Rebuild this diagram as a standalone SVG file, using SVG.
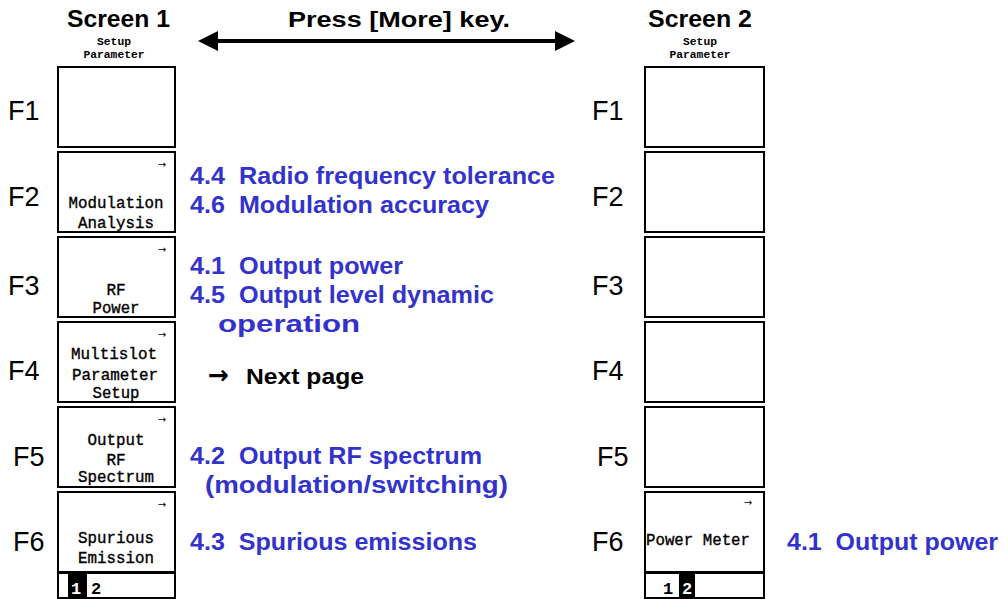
<svg xmlns="http://www.w3.org/2000/svg" width="1005" height="599" viewBox="0 0 1005 599">
<style>
.title{font-family:"Liberation Sans",Arial,sans-serif;font-weight:bold;font-size:24px;fill:#000}
.hdr{font-family:"Liberation Mono","DejaVu Sans Mono",monospace;font-weight:bold;font-size:11px;fill:#000}
.fk{font-family:"Liberation Sans",Arial,sans-serif;font-size:27px;fill:#000}
.box{fill:#fff;stroke:#000;stroke-width:2}
.lbl{font-family:"Liberation Mono","DejaVu Sans Mono",monospace;font-size:16px;fill:#000;stroke:#000;stroke-width:0.35}
.sm{font-family:"DejaVu Sans",sans-serif;font-size:10px;fill:#000}
.blue{font-family:"Liberation Sans",Arial,sans-serif;font-weight:bold;font-size:23px;fill:#3333CC}
.blk{font-family:"Liberation Sans",Arial,sans-serif;font-weight:bold;font-size:22px;fill:#000}
.pg{font-family:"Liberation Mono","DejaVu Sans Mono",monospace;font-weight:bold;font-size:17px}
</style>
<defs>
<marker id="ah" markerWidth="5" markerHeight="5" refX="0" refY="2.5" orient="auto-start-reverse" markerUnits="strokeWidth">
<path d="M0,0 L5,2.5 L0,5 Z" fill="#000"/>
</marker>
</defs>
<rect width="1005" height="599" fill="#fff"/>

<g id="headers">
<text class="title" x="67" y="27" textLength="103" lengthAdjust="spacingAndGlyphs">Screen 1</text>
<text class="hdr" x="114" y="45" text-anchor="middle" textLength="34" lengthAdjust="spacingAndGlyphs">Setup</text>
<text class="hdr" x="114" y="58" text-anchor="middle" textLength="61" lengthAdjust="spacingAndGlyphs">Parameter</text>
<text class="title" x="648" y="27" textLength="104" lengthAdjust="spacingAndGlyphs">Screen 2</text>
<text class="hdr" x="700" y="45" text-anchor="middle" textLength="34" lengthAdjust="spacingAndGlyphs">Setup</text>
<text class="hdr" x="700" y="58" text-anchor="middle" textLength="61" lengthAdjust="spacingAndGlyphs">Parameter</text>
<text class="blk" x="288" y="27" textLength="222" lengthAdjust="spacingAndGlyphs">Press [More] key.</text>
</g>

<g id="connectors">
<line x1="218" y1="41" x2="555" y2="41" stroke="#000" stroke-width="4" marker-start="url(#ah)" marker-end="url(#ah)"/>
</g>

<g id="fkeys1">
<text class="fk" x="8" y="120">F1</text>
<text class="fk" x="8" y="206">F2</text>
<text class="fk" x="8" y="295">F3</text>
<text class="fk" x="8" y="380">F4</text>
<text class="fk" x="13" y="466">F5</text>
<text class="fk" x="13" y="551">F6</text>
</g>
<g id="fkeys2">
<text class="fk" x="592" y="120">F1</text>
<text class="fk" x="592" y="206">F2</text>
<text class="fk" x="592" y="295">F3</text>
<text class="fk" x="592" y="380">F4</text>
<text class="fk" x="597" y="466">F5</text>
<text class="fk" x="592" y="551">F6</text>
</g>

<g id="s1-f1"><rect class="box" x="58" y="67" width="117" height="80"/></g>
<g id="s1-f2"><rect class="box" x="58" y="152" width="117" height="80"/>
<text class="sm" x="162" y="168" text-anchor="middle">→</text>
<text class="lbl" x="116" y="208" text-anchor="middle" textLength="95" lengthAdjust="spacingAndGlyphs">Modulation</text>
<text class="lbl" x="116" y="228" text-anchor="middle" textLength="76" lengthAdjust="spacingAndGlyphs">Analysis</text></g>
<g id="s1-f3"><rect class="box" x="58" y="237" width="117" height="80"/>
<text class="sm" x="162" y="253" text-anchor="middle">→</text>
<text class="lbl" x="116" y="295" text-anchor="middle">RF</text>
<text class="lbl" x="116" y="313" text-anchor="middle" textLength="47" lengthAdjust="spacingAndGlyphs">Power</text></g>
<g id="s1-f4"><rect class="box" x="58" y="322" width="117" height="80"/>
<text class="sm" x="162" y="338" text-anchor="middle">→</text>
<text class="lbl" x="114" y="359" text-anchor="middle" textLength="86" lengthAdjust="spacingAndGlyphs">Multislot</text>
<text class="lbl" x="115" y="380" text-anchor="middle" textLength="86" lengthAdjust="spacingAndGlyphs">Parameter</text>
<text class="lbl" x="116" y="398" text-anchor="middle" textLength="47" lengthAdjust="spacingAndGlyphs">Setup</text></g>
<g id="s1-f5"><rect class="box" x="58" y="407" width="117" height="80"/>
<text class="sm" x="162" y="423" text-anchor="middle">→</text>
<text class="lbl" x="116" y="445" text-anchor="middle" textLength="57" lengthAdjust="spacingAndGlyphs">Output</text>
<text class="lbl" x="116" y="465" text-anchor="middle">RF</text>
<text class="lbl" x="116" y="482" text-anchor="middle" textLength="76" lengthAdjust="spacingAndGlyphs">Spectrum</text></g>
<g id="s1-f6"><rect class="box" x="58" y="492" width="117" height="80"/>
<text class="sm" x="162" y="508" text-anchor="middle">→</text>
<text class="lbl" x="116" y="543" text-anchor="middle" textLength="76" lengthAdjust="spacingAndGlyphs">Spurious</text>
<text class="lbl" x="116" y="563" text-anchor="middle" textLength="76" lengthAdjust="spacingAndGlyphs">Emission</text></g>
<g id="s1-page"><rect class="box" x="58" y="573" width="117" height="25"/>
<rect x="68" y="574" width="19" height="23" fill="#000"/>
<text class="pg" x="76" y="594" text-anchor="middle" fill="#fff">1</text>
<text class="pg" x="96" y="594" text-anchor="middle" fill="#000">2</text></g>

<g id="s2-f1"><rect class="box" x="645" y="67" width="119" height="80"/></g>
<g id="s2-f2"><rect class="box" x="645" y="152" width="119" height="80"/></g>
<g id="s2-f3"><rect class="box" x="645" y="237" width="119" height="80"/></g>
<g id="s2-f4"><rect class="box" x="645" y="322" width="119" height="80"/></g>
<g id="s2-f5"><rect class="box" x="645" y="407" width="119" height="80"/></g>
<g id="s2-f6"><rect class="box" x="645" y="492" width="119" height="80"/>
<text class="sm" x="748" y="506" text-anchor="middle">→</text>
<text class="lbl" x="646" y="545" textLength="104" lengthAdjust="spacingAndGlyphs">Power Meter</text></g>
<g id="s2-page"><rect class="box" x="645" y="573" width="119" height="25"/>
<rect x="679" y="574" width="16" height="23" fill="#000"/>
<text class="pg" x="668" y="594" text-anchor="middle" fill="#000">1</text>
<text class="pg" x="687" y="594" text-anchor="middle" fill="#fff">2</text></g>

<g id="notes">
<text class="blue" x="190" y="184" textLength="365" lengthAdjust="spacingAndGlyphs" xml:space="preserve">4.4  Radio frequency tolerance</text>
<text class="blue" x="190" y="213" textLength="299" lengthAdjust="spacingAndGlyphs" xml:space="preserve">4.6  Modulation accuracy</text>
<text class="blue" x="190" y="274" textLength="213" lengthAdjust="spacingAndGlyphs" xml:space="preserve">4.1  Output power</text>
<text class="blue" x="190" y="303" textLength="304" lengthAdjust="spacingAndGlyphs" xml:space="preserve">4.5  Output level dynamic</text>
<text class="blue" x="218" y="332" textLength="142" lengthAdjust="spacingAndGlyphs">operation</text>
<text x="208" y="384" font-family="'DejaVu Sans',sans-serif" font-weight="bold" font-size="26" fill="#000" textLength="21" lengthAdjust="spacingAndGlyphs">→</text>
<text class="blk" x="246" y="384" textLength="118" lengthAdjust="spacingAndGlyphs">Next page</text>
<text class="blue" x="190" y="464" textLength="292" lengthAdjust="spacingAndGlyphs" xml:space="preserve">4.2  Output RF spectrum</text>
<text class="blue" x="205" y="493" textLength="303" lengthAdjust="spacingAndGlyphs">(modulation/switching)</text>
<text class="blue" x="190" y="550" textLength="287" lengthAdjust="spacingAndGlyphs" xml:space="preserve">4.3  Spurious emissions</text>
<text class="blue" x="787" y="550" textLength="211" lengthAdjust="spacingAndGlyphs" xml:space="preserve">4.1  Output power</text>
</g>
</svg>
